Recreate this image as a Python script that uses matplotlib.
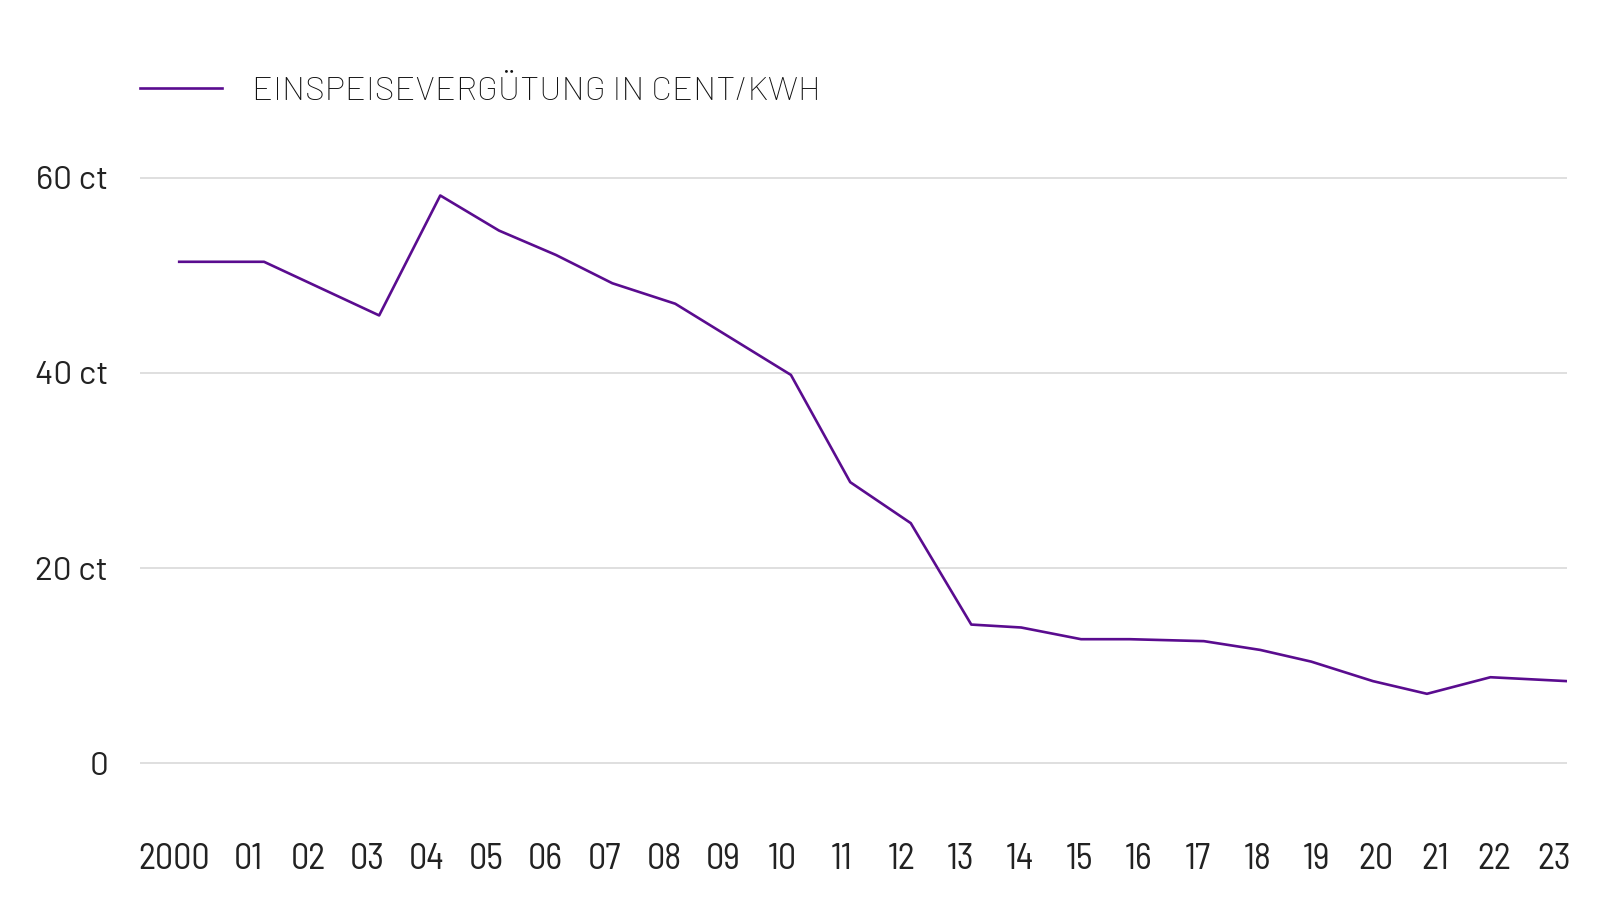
import matplotlib
matplotlib.use("Agg")
import matplotlib.pyplot as plt
import matplotlib.transforms as mtransforms

# Daten (Jahr als Dezimalzahl, Vergütung in ct/kWh)
jahre = [1999.83, 2001.26, 2003.20, 2004.23, 2005.22, 2006.18, 2007.13, 2008.19,
         2010.14, 2011.14, 2012.16, 2013.18, 2014.02, 2015.03, 2015.85, 2017.10,
         2018.05, 2018.91, 2019.95, 2020.86, 2021.93, 2023.22]
verguetung = [51.4, 51.4, 45.9, 58.2, 54.6, 52.1, 49.2, 47.1,
              39.8, 28.8, 24.6, 14.2, 13.9, 12.7, 12.7, 12.5,
              11.6, 10.4, 8.4, 7.1, 8.8, 8.4]
tick_jahre = list(range(2000, 2024))
tick_labels = ["2000"] + ["%02d" % (j % 100) for j in range(2001, 2024)]
y_ticks = [0, 20, 40, 60]
y_labels = ["0", "20 ct", "40 ct", "60 ct"]
serien_name = "EINSPEISEVERGÜTUNG IN CENT/KWH"

plt.rcParams['font.family'] = ['Barlow', 'DejaVu Sans']
schmal = ['Barlow Semi Condensed', 'DejaVu Sans']
text_color = '#222222'
line_color = '#5a0c8f'

fig = plt.figure(figsize=(16.06, 9.06), dpi=100)
ax = fig.add_axes([0.0872, 0.1524, 0.8885, 0.6566])

ax.plot(jahre, verguetung, color=line_color, linewidth=1.9, label=serien_name)

ax.set_xlim(1999.17, 2023.22)
ax.set_ylim(-0.5, 60.5)
ax.set_yticks(y_ticks)
ax.set_yticklabels(y_labels)
ax.set_xticks(tick_jahre)
ax.set_xticklabels(tick_labels)

ax.tick_params(axis='y', length=0, pad=23, labelsize=24, labelcolor=text_color)
ax.tick_params(axis='x', length=0, pad=54, labelsize=26, labelcolor=text_color)
for lbl in ax.get_xticklabels():
    lbl.set_family(schmal)
# "2000" etwas nach links verschieben
first = ax.get_xticklabels()[0]
first.set_transform(first.get_transform() + mtransforms.ScaledTranslation(-11 / 72, 0, fig.dpi_scale_trans))

ax.grid(axis='y', color='#d9d9d9', linewidth=1.2)
ax.grid(axis='x', visible=False)
ax.set_axisbelow(True)
for s in ax.spines.values():
    s.set_visible(False)

leg = fig.legend(loc='center left', bbox_to_anchor=(140 / 1606, 1 - 92 / 906),
                 frameon=False, borderpad=0, borderaxespad=0,
                 handlelength=2.4, handletextpad=0.9,
                 prop={'family': ['Barlow', 'DejaVu Sans'], 'size': 24.5, 'weight': 'light'})
for t in leg.get_texts():
    t.set_color('#111111')

fig.savefig("out.png", dpi=100)
